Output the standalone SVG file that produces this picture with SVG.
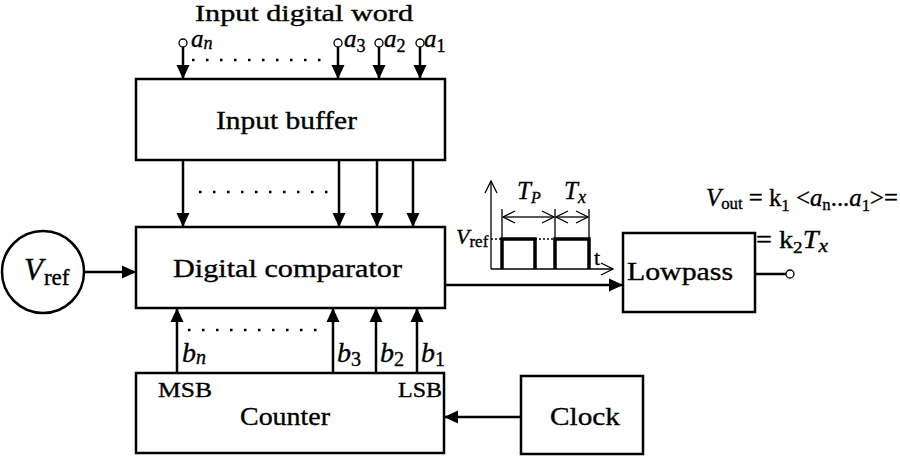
<svg xmlns="http://www.w3.org/2000/svg" width="900" height="457" viewBox="0 0 900 457">
<style>
.box{fill:#fff;stroke:#000;stroke-width:2.5}
.ln{stroke:#000;stroke-width:2.5;fill:none}
.thin{stroke:#000;stroke-width:1.3;fill:none}
.t{font-family:"Liberation Serif","Times New Roman",serif;fill:#000;stroke:#000;stroke-width:0.35}
.dots{stroke:#000;stroke-width:2.5;stroke-dasharray:2.5 11.5;fill:none}
.i{font-style:italic}
</style>
<defs>
<marker id="ah" markerUnits="userSpaceOnUse" markerWidth="14" markerHeight="14" viewBox="0 0 14 14" refX="14" refY="7" orient="auto"><path d="M0,0.5 L14,7 L0,13.5 z" fill="#000"/></marker>
<marker id="oa" markerUnits="userSpaceOnUse" markerWidth="14" markerHeight="14" viewBox="0 0 14 14" refX="13" refY="7" orient="auto"><path d="M1,1 L13,7 L1,13" fill="none" stroke="#000" stroke-width="1.3"/></marker>
</defs>

<text class="t" x="195" y="21" font-size="23" textLength="218" lengthAdjust="spacingAndGlyphs">Input digital word</text>

<g id="input-buffer">
<rect class="box" x="136" y="79" width="309" height="81"/>
<text class="t" x="216" y="129" font-size="26" textLength="141" lengthAdjust="spacingAndGlyphs">Input buffer</text>
</g>

<g id="digital-comparator">
<rect class="box" x="136" y="227" width="309" height="81"/>
<text class="t" x="173" y="277" font-size="26" textLength="229" lengthAdjust="spacingAndGlyphs">Digital comparator</text>
</g>

<g id="counter">
<rect class="box" x="136" y="373" width="308" height="80"/>
<text class="t" x="158" y="397" font-size="21" textLength="54" lengthAdjust="spacingAndGlyphs">MSB</text>
<text class="t" x="398" y="397" font-size="21" textLength="44" lengthAdjust="spacingAndGlyphs">LSB</text>
<text class="t" x="240" y="425" font-size="26" textLength="90" lengthAdjust="spacingAndGlyphs">Counter</text>
</g>

<g id="clock">
<rect class="box" x="521" y="376" width="122" height="78"/>
<text class="t" x="550" y="425" font-size="26" textLength="70" lengthAdjust="spacingAndGlyphs">Clock</text>
</g>

<g id="lowpass">
<rect class="box" x="623" y="233" width="132" height="79"/>
<text class="t" x="627" y="280" font-size="26" textLength="106" lengthAdjust="spacingAndGlyphs">Lowpass</text>
</g>

<g id="vref">
<circle class="ln" cx="43" cy="272" r="41"/>
<text class="t" x="24" y="280" font-size="31"><tspan class="i">V</tspan><tspan font-size="23" dx="1" dy="5">ref</tspan></text>
</g>

<g id="waveform">
<line class="thin" x1="491" y1="269" x2="491" y2="181" marker-end="url(#oa)"/>
<line class="thin" x1="491" y1="269" x2="613" y2="269" marker-end="url(#oa)"/>
<path d="M502,269 V239 H535 V269" fill="none" stroke="#000" stroke-width="3.5"/>
<path d="M555,269 V239 H589 V269" fill="none" stroke="#000" stroke-width="3.5"/>
<line x1="491" y1="239" x2="502" y2="239" stroke="#000" stroke-width="1.5" stroke-dasharray="2 2"/>
<line x1="535" y1="239" x2="555" y2="239" stroke="#000" stroke-width="1.5" stroke-dasharray="2 2"/>
<line class="thin" x1="502" y1="209" x2="502" y2="239"/>
<line class="thin" x1="555" y1="209" x2="555" y2="239"/>
<line class="thin" x1="589" y1="209" x2="589" y2="239"/>
<line class="thin" x1="528" y1="217" x2="503" y2="217" marker-end="url(#oa)"/>
<line class="thin" x1="528" y1="217" x2="554" y2="217" marker-end="url(#oa)"/>
<line class="thin" x1="572" y1="217" x2="556" y2="217" marker-end="url(#oa)"/>
<line class="thin" x1="572" y1="217" x2="588" y2="217" marker-end="url(#oa)"/>
<text class="t" x="517" y="199" font-size="25"><tspan class="i">T</tspan><tspan class="i" font-size="16" dy="4">P</tspan></text>
<text class="t" x="564" y="199" font-size="25"><tspan class="i">T</tspan><tspan class="i" font-size="18" dy="4">x</tspan></text>
<text class="t" x="456" y="244" font-size="22"><tspan class="i">V</tspan><tspan font-size="17" dy="3">ref</tspan></text>
<text class="t" x="594" y="265" font-size="22">t</text>
</g>

<g id="vout-formula">
<text class="t" x="706" y="206" font-size="25" textLength="192" lengthAdjust="spacingAndGlyphs"><tspan class="i">V</tspan><tspan font-size="17" dy="3">out</tspan><tspan dy="-3"> = k</tspan><tspan font-size="17" dy="5">1</tspan><tspan dy="-5"> &lt;</tspan><tspan class="i">a</tspan><tspan font-size="17" dy="4">n</tspan><tspan dy="-4">...</tspan><tspan class="i">a</tspan><tspan font-size="17" dy="5">1</tspan><tspan dy="-5">&gt;=</tspan></text>
<text class="t" x="756" y="248" font-size="25" textLength="72" lengthAdjust="spacingAndGlyphs"><tspan>= k</tspan><tspan font-size="17" dy="5">2</tspan><tspan dy="-5" class="i">T</tspan><tspan class="i" font-size="19" dy="4">x</tspan></text>
</g>

<g id="labels">
<text class="t i" x="191" y="47" font-size="25">a<tspan font-size="18" dy="2">n</tspan></text>
<text class="t" x="344" y="47" font-size="25"><tspan class="i">a</tspan><tspan font-size="18" dy="5">3</tspan></text>
<text class="t" x="384" y="47" font-size="25"><tspan class="i">a</tspan><tspan font-size="18" dy="5">2</tspan></text>
<text class="t" x="424" y="47" font-size="25"><tspan class="i">a</tspan><tspan font-size="18" dy="5">1</tspan></text>
<text class="t i" x="182" y="362" font-size="28">b<tspan font-size="20" dy="2">n</tspan></text>
<text class="t" x="337" y="362" font-size="28"><tspan class="i">b</tspan><tspan font-size="20" dy="4">3</tspan></text>
<text class="t" x="380" y="362" font-size="28"><tspan class="i">b</tspan><tspan font-size="20" dy="4">2</tspan></text>
<text class="t" x="421" y="362" font-size="28"><tspan class="i">b</tspan><tspan font-size="20" dy="4">1</tspan></text>
</g>

<g id="connectors">
<circle class="thin" cx="183" cy="43" r="4" stroke-width="2"/>
<circle class="thin" cx="338" cy="43" r="4" stroke-width="2"/>
<circle class="thin" cx="379" cy="43" r="4" stroke-width="2"/>
<circle class="thin" cx="420" cy="43" r="4" stroke-width="2"/>
<line class="ln" x1="183" y1="47" x2="183" y2="79" marker-end="url(#ah)"/>
<line class="ln" x1="338" y1="47" x2="338" y2="79" marker-end="url(#ah)"/>
<line class="ln" x1="379" y1="47" x2="379" y2="79" marker-end="url(#ah)"/>
<line class="ln" x1="420" y1="47" x2="420" y2="79" marker-end="url(#ah)"/>
<line class="dots" x1="192" y1="60" x2="330" y2="60"/>

<line class="ln" x1="183" y1="160" x2="183" y2="227" marker-end="url(#ah)"/>
<line class="ln" x1="339" y1="160" x2="339" y2="227" marker-end="url(#ah)"/>
<line class="ln" x1="377" y1="160" x2="377" y2="227" marker-end="url(#ah)"/>
<line class="ln" x1="413" y1="160" x2="413" y2="227" marker-end="url(#ah)"/>
<line class="dots" x1="199" y1="192" x2="335" y2="192"/>

<line class="ln" x1="177" y1="373" x2="177" y2="308" marker-end="url(#ah)"/>
<line class="ln" x1="333" y1="373" x2="333" y2="308" marker-end="url(#ah)"/>
<line class="ln" x1="376" y1="373" x2="376" y2="308" marker-end="url(#ah)"/>
<line class="ln" x1="417" y1="373" x2="417" y2="308" marker-end="url(#ah)"/>
<line class="dots" x1="188" y1="330" x2="324" y2="330"/>

<line class="ln" x1="84" y1="272" x2="136" y2="272" marker-end="url(#ah)"/>
<line class="ln" x1="445" y1="285" x2="623" y2="285" marker-end="url(#ah)"/>
<line class="ln" x1="521" y1="417" x2="444" y2="417" marker-end="url(#ah)"/>
<line class="ln" x1="755" y1="274" x2="786" y2="274"/>
<circle class="thin" cx="790" cy="274" r="4" stroke-width="2"/>
</g>
</svg>
